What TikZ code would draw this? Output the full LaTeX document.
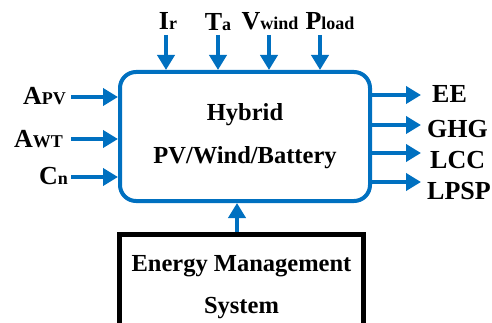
\documentclass[tikz,border=0pt]{standalone}
\usepackage{fontspec}
\setmainfont{Liberation Serif}
\usepackage{tikz}
\usetikzlibrary{arrows.meta,positioning}
\definecolor{hybblue}{RGB}{0,112,192}
\newcommand{\lsub}[1]{{\fontsize{18}{18}\selectfont #1}}

\begin{document}
\begin{tikzpicture}[
  x=1pt,y=-1pt,
  lbl/.style={font=\fontsize{26}{26}\selectfont\bfseries,inner sep=0pt},
  mainbox/.style={draw=hybblue,line width=4pt,rounded corners=16pt,minimum width=250pt,minimum height=129pt,
    align=center,font=\fontsize{24.5}{43}\selectfont\bfseries},
  emsbox/.style={draw=black,line width=5pt,minimum width=244pt,minimum height=106pt,
    align=center,font=\fontsize{24.5}{42}\selectfont\bfseries},
  arr/.style={draw=hybblue,line width=4.5pt,-{Triangle[length=15pt,width=17pt]}}
]
\useasboundingbox (0,0) rectangle (492,323);
\clip (0,0) rectangle (492,323);
\node[mainbox] (hyb) at (245,136.5) {Hybrid\\PV/Wind/Battery};
\node[emsbox,anchor=north] (ems) at (241.5,232) {Energy Management\\System};
% inputs on top
\node[lbl,anchor=base] (ir) at (168,30) {I\lsub{r}};
\node[lbl,anchor=base] (ta) at (218,31) {T\lsub{a}};
\node[lbl,anchor=base] (vw) at (270,30) {V\lsub{wind}};
\node[lbl,anchor=base] (pl) at (330,30) {P\lsub{load}};
\coordinate (ir-t) at (166,35);
\coordinate (ta-t) at (218,35);
\coordinate (vw-t) at (269,35);
\coordinate (pl-t) at (320,35);
\foreach \c in {ir-t,ta-t,vw-t,pl-t}
  \draw[arr] (\c) -- (\c |- hyb.north);
% inputs on the left
\node[lbl,anchor=base east] (apv) at (66,105) {A\lsub{PV}};
\node[lbl,anchor=base east] (awt) at (63,148) {A\lsub{WT}};
\node[lbl,anchor=base east] (cn) at (68,185) {C\lsub{n}};
\coordinate (apv-t) at (71,97);
\coordinate (awt-t) at (71,139);
\coordinate (cn-t) at (71,177);
\foreach \c in {apv-t,awt-t,cn-t}
  \draw[arr] (\c) -- (\c -| hyb.west);
% outputs
\node[lbl,anchor=base west] (ee) at (432,103) {EE};
\node[lbl,anchor=base west] (ghg) at (427,138) {GHG};
\node[lbl,anchor=base west] (lcc) at (430,168) {LCC};
\node[lbl,anchor=base west] (lpsp) at (427,200) {LPSP};
\coordinate (ee-h) at (421,95);
\coordinate (ghg-h) at (421,125);
\coordinate (lcc-h) at (421,153);
\coordinate (lpsp-h) at (421,182);
\foreach \c in {ee-h,ghg-h,lcc-h,lpsp-h}
  \draw[arr] (\c -| hyb.east) -- (\c);
% control link
\coordinate (ctl) at (237,0);
\draw[arr] (ctl |- ems.north) -- (ctl |- hyb.south);
\end{tikzpicture}
\end{document}
